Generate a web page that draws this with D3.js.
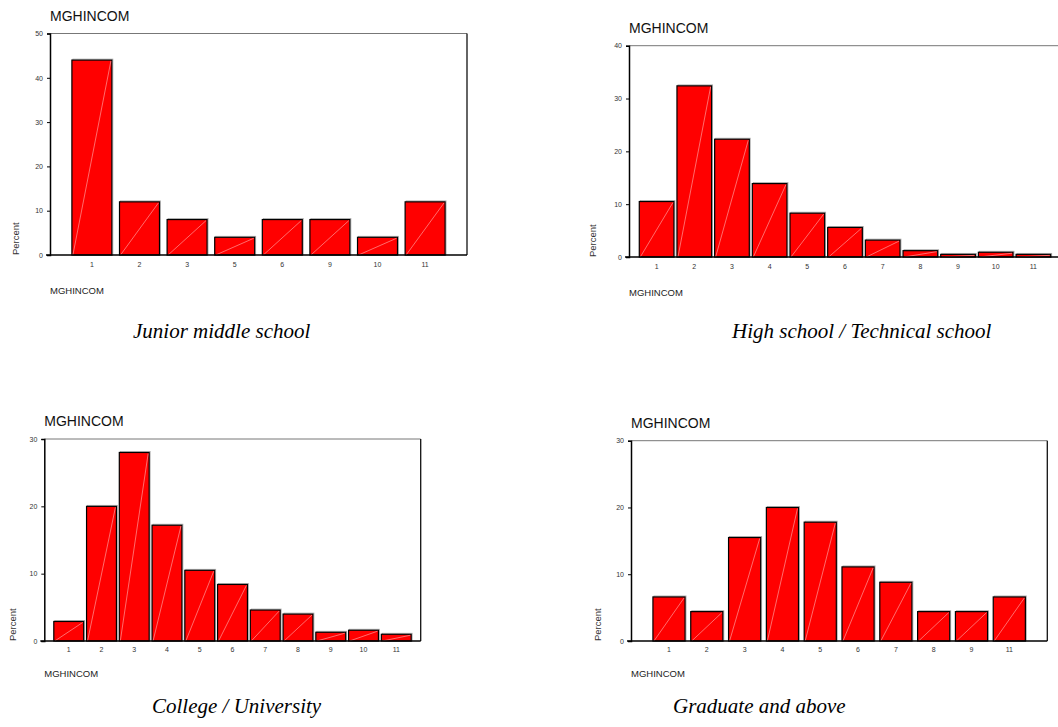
<!DOCTYPE html>
<html>
<head>
<meta charset="utf-8">
<script src="https://cdn.jsdelivr.net/npm/d3@7"></script>
<style>
  html, body { margin: 0; padding: 0; background: #fff; }
  svg { display: block; }
</style>
</head>
<body>
<svg id="svg" width="1058" height="727"></svg>
<script>
"use strict";
// values (percent per MGHINCOM code)
const juniorCats = ["1", "2", "3", "5", "6", "9", "10", "11"];
const juniorPct = [44, 12, 8, 4, 8, 8, 4, 12];
const juniorTicks = [0, 10, 20, 30, 40, 50];

const highCats = ["1", "2", "3", "4", "5", "6", "7", "8", "9", "10", "11"];
const highPct = [10.5, 32.4, 22.3, 13.9, 8.3, 5.6, 3.2, 1.2, 0.5, 0.9, 0.5];
const highTicks = [0, 10, 20, 30, 40];

const collegeCats = ["1", "2", "3", "4", "5", "6", "7", "8", "9", "10", "11"];
const collegePct = [2.9, 20.0, 28.0, 17.2, 10.5, 8.4, 4.6, 4.0, 1.3, 1.6, 1.0];
const collegeTicks = [0, 10, 20, 30];

const gradCats = ["1", "2", "3", "4", "5", "6", "7", "8", "9", "11"];
const gradPct = [6.6, 4.4, 15.5, 20.0, 17.8, 11.1, 8.8, 4.4, 4.4, 6.6];
const gradTicks = [0, 10, 20, 30];

const captions = ["Junior middle school", "High school / Technical school",
                  "College / University", "Graduate and above"];

const svg = d3.select("#svg");

// frame boxes and band padding for each panel
const panels = [
  {cats: juniorCats, vals: juniorPct, ticks: juniorTicks, x0: 50, y0: 33.5, x1: 467, y1: 255,
   pi: 0.16, po: 0.46, capX: 133, capY: 338, pctDx: 34, labDy: 11.7, ttlDy: 39},
  {cats: highCats, vals: highPct, ticks: highTicks, x0: 629, y0: 45.7, x1: 1061, y1: 257,
   pi: 0.08, po: 0.273, capX: 732, capY: 338, pctDx: 36, labDy: 12, ttlDy: 39, open: true},
  {cats: collegeCats, vals: collegePct, ticks: collegeTicks, x0: 44.3, y0: 439, x1: 420.7, y1: 641,
   pi: 0.088, po: 0.29, capX: 152, capY: 713, pctDx: 31, labDy: 11.3, ttlDy: 36.3},
  {cats: gradCats, vals: gradPct, ticks: gradTicks, x0: 631, y0: 440.7, x1: 1047.3, y1: 641,
   pi: 0.15, po: 0.58, capX: 673, capY: 713, pctDx: 33, labDy: 11, ttlDy: 36.3}
];

function drawPanel(p, caption) {
  const g = svg.append("g");
  const x = d3.scaleBand().domain(p.cats).range([p.x0, p.x1])
    .paddingInner(p.pi).paddingOuter(p.po);
  const y = d3.scaleLinear().domain([0, d3.max(p.ticks)]).range([p.y1, p.y0]);

  // top and right frame lines
  g.append("line").attr("x1", p.x0).attr("x2", p.x1).attr("y1", p.y0).attr("y2", p.y0)
    .attr("stroke", "#777").attr("stroke-width", 1);
  if (!p.open) {
    g.append("line").attr("x1", p.x1).attr("x2", p.x1).attr("y1", p.y0).attr("y2", p.y1)
      .attr("stroke", "#111").attr("stroke-width", 1.3);
  }

  const data = p.cats.map((c, i) => ({cat: c, v: p.vals[i]}));
  const bars = g.selectAll(".bar").data(data).enter().append("g").attr("class", "bar");
  // faint grey shadow edge on top/right like the SPSS export
  bars.append("rect")
    .attr("x", d => x(d.cat) + 1)
    .attr("y", d => y(d.v) - 1)
    .attr("width", x.bandwidth())
    .attr("height", d => y(0) - y(d.v) + 1)
    .attr("fill", "none")
    .attr("stroke", "#aaa")
    .attr("stroke-width", 0.8);
  bars.append("rect")
    .attr("x", d => x(d.cat))
    .attr("y", d => y(d.v))
    .attr("width", x.bandwidth())
    .attr("height", d => y(0) - y(d.v))
    .attr("fill", "#ff0000")
    .attr("stroke", "#000")
    .attr("stroke-width", 1.2);
  bars.append("line")
    .attr("x1", d => x(d.cat) + 1)
    .attr("y1", y(0))
    .attr("x2", d => x(d.cat) + x.bandwidth() - 1)
    .attr("y2", d => y(d.v) + 1)
    .attr("stroke", "#ffb3b3")
    .attr("stroke-width", 0.6);

  // y axis
  const ya = g.append("g").attr("transform", `translate(${p.x0},0)`)
    .call(d3.axisLeft(y).tickValues(p.ticks).tickSize(3).tickPadding(4));
  ya.select(".domain").attr("stroke", "#000").attr("stroke-width", 1.5);
  ya.selectAll(".tick line").attr("stroke", "#000");
  ya.selectAll("text").attr("font-family", "Liberation Sans, Arial, sans-serif")
    .attr("font-size", 7).attr("fill", "#333");

  // x axis (labels only)
  const xa = g.append("g").attr("transform", `translate(0,${p.y1})`)
    .call(d3.axisBottom(x).tickSize(0).tickPadding(0));
  xa.select(".domain").remove();
  xa.selectAll("text").attr("font-family", "Liberation Sans, Arial, sans-serif")
    .attr("font-size", 7).attr("fill", "#333").attr("dy", null).attr("y", p.labDy);
  g.append("line").attr("x1", p.x0 - 4).attr("x2", p.x1).attr("y1", p.y1).attr("y2", p.y1)
    .attr("stroke", "#000").attr("stroke-width", 1.5);

  // titles
  g.append("text").attr("x", p.x0).attr("y", p.y0 - 13)
    .attr("font-family", "Liberation Sans, Arial, sans-serif").attr("font-size", 14)
    .attr("fill", "#111").text("MGHINCOM");
  g.append("text").attr("x", p.x0).attr("y", p.y1 + p.ttlDy)
    .attr("font-family", "Liberation Sans, Arial, sans-serif").attr("font-size", 9.5)
    .attr("fill", "#222").text("MGHINCOM");
  g.append("text")
    .attr("transform", `translate(${p.x0 - p.pctDx + 3},${p.y1}) rotate(-90)`)
    .attr("font-family", "Liberation Sans, Arial, sans-serif").attr("font-size", 9.5)
    .attr("fill", "#333").text("Percent");

  svg.append("text").attr("x", p.capX).attr("y", p.capY)
    .attr("font-family", "Liberation Serif, Times New Roman, serif")
    .attr("font-style", "italic").attr("font-size", 21)
    .attr("fill", "#000").text(caption);
}

panels.forEach((p, i) => drawPanel(p, captions[i]));
</script>
</body>
</html>
